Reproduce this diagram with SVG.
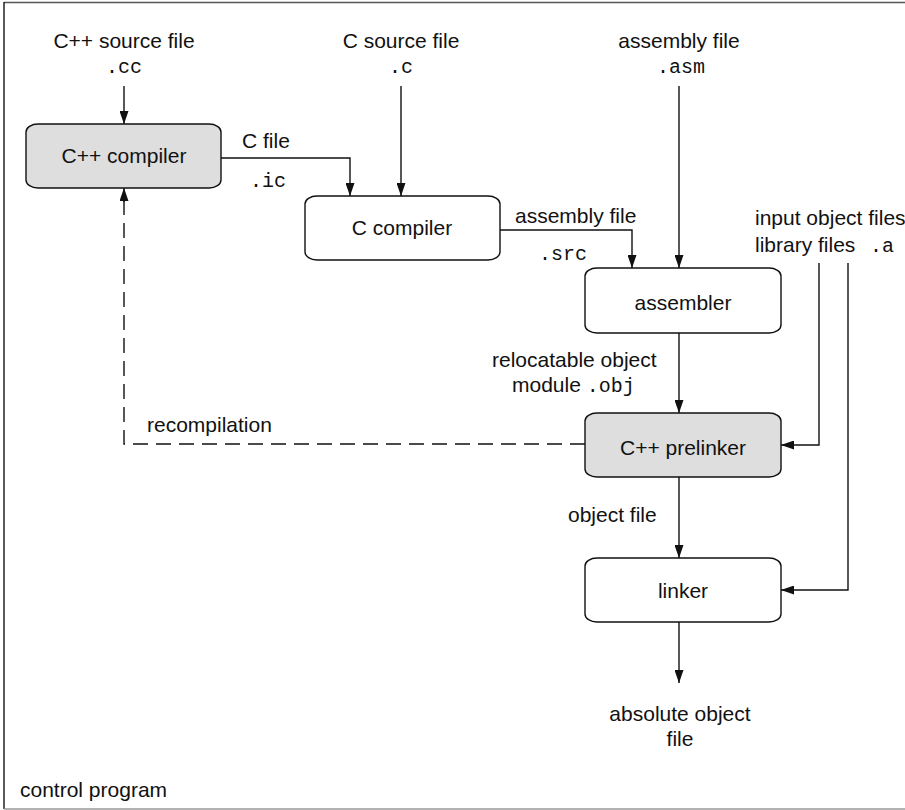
<svg xmlns="http://www.w3.org/2000/svg" width="905" height="810" viewBox="0 0 905 810">
<defs>
<style>
.t{font-family:"Liberation Sans",Arial,sans-serif;font-size:21px;fill:#111}
.m{font-family:"Liberation Mono","Courier New",monospace;font-size:20px;fill:#111}
.c{text-anchor:middle}
.box{fill:#fff;stroke:#111;stroke-width:1.4}
.gbox{fill:#dedede;stroke:#111;stroke-width:1.4}
.ln{fill:none;stroke:#111;stroke-width:1.4}
.dash{fill:none;stroke:#111;stroke-width:1.4;stroke-dasharray:15,8}
</style>
<marker id="ah" viewBox="0 0 13 9" refX="13" refY="4.5" markerWidth="13" markerHeight="9" markerUnits="userSpaceOnUse" orient="auto">
<path d="M0,0 L13,4.5 L0,9 Z" fill="#111"/>
</marker>
</defs>
<rect width="905" height="810" fill="#fff"/>
<g id="frame">
<line x1="4" y1="2.5" x2="905" y2="2.5" stroke="#555" stroke-width="1.6"/>
<line x1="4" y1="2" x2="4" y2="809" stroke="#222" stroke-width="1.5"/>
<line x1="4" y1="809" x2="905" y2="809" stroke="#999" stroke-width="1.5"/>
<text class="t" x="20" y="797">control program</text>
</g>
<g id="connectors">
<line class="ln" x1="124" y1="86" x2="124" y2="124" marker-end="url(#ah)"/>
<polyline class="ln" points="221,158 350,158 350,196" marker-end="url(#ah)"/>
<line class="ln" x1="401" y1="86" x2="401" y2="196" marker-end="url(#ah)"/>
<polyline class="ln" points="500,230 632,230 632,268" marker-end="url(#ah)"/>
<line class="ln" x1="679" y1="86" x2="679" y2="268" marker-end="url(#ah)"/>
<polyline class="ln" points="819,263 819,445 781,445" marker-end="url(#ah)"/>
<polyline class="ln" points="848,263 848,590 781,590" marker-end="url(#ah)"/>
<line class="ln" x1="679" y1="333" x2="679" y2="413" marker-end="url(#ah)"/>
<line class="ln" x1="679" y1="477" x2="679" y2="558" marker-end="url(#ah)"/>
<line class="ln" x1="679" y1="622" x2="679" y2="683" marker-end="url(#ah)"/>
<polyline class="dash" points="585,444 124,444 124,200"/>
<line class="ln" x1="124" y1="202" x2="124" y2="188" marker-end="url(#ah)"/>
<text class="t" x="242" y="148">C file</text>
<text class="m" x="250" y="187">.ic</text>
<text class="t" x="515" y="223">assembly file</text>
<text class="m" x="539" y="260">.src</text>
<text class="t" x="755" y="225">input object files</text>
<text class="t" x="755" y="252">library files</text>
<text class="m" x="870" y="252">.a</text>
<text class="t" x="492" y="367">relocatable object</text>
<text x="512" y="392"><tspan class="t">module </tspan><tspan class="m">.obj</tspan></text>
<text class="t" x="147" y="432">recompilation</text>
<text class="t" x="568" y="522">object file</text>
</g>
<g id="cpp-source">
<text class="t c" x="124" y="48">C++ source file</text>
<text class="m c" x="124" y="73">.cc</text>
</g>
<g id="c-source">
<text class="t c" x="401" y="48">C source file</text>
<text class="m c" x="401" y="73">.c</text>
</g>
<g id="asm-source">
<text class="t c" x="679" y="48">assembly file</text>
<text class="m c" x="681" y="73">.asm</text>
</g>
<g id="cpp-compiler">
<rect class="gbox" x="26" y="124" width="195" height="64" rx="12" ry="8"/>
<text class="t c" x="124" y="163">C++ compiler</text>
</g>
<g id="c-compiler">
<rect class="box" x="305" y="196" width="195" height="64" rx="12" ry="8"/>
<text class="t c" x="402" y="235">C compiler</text>
</g>
<g id="assembler">
<rect class="box" x="585" y="268" width="196" height="65" rx="12" ry="8"/>
<text class="t c" x="683" y="310">assembler</text>
</g>
<g id="prelinker">
<rect class="gbox" x="585" y="413" width="196" height="64" rx="12" ry="8"/>
<text class="t c" x="683" y="455">C++ prelinker</text>
</g>
<g id="linker">
<rect class="box" x="585" y="558" width="196" height="64" rx="12" ry="8"/>
<text class="t c" x="683" y="598">linker</text>
</g>
<g id="output">
<text class="t c" x="680" y="721">absolute object</text>
<text class="t c" x="680" y="746">file</text>
</g>
</svg>
